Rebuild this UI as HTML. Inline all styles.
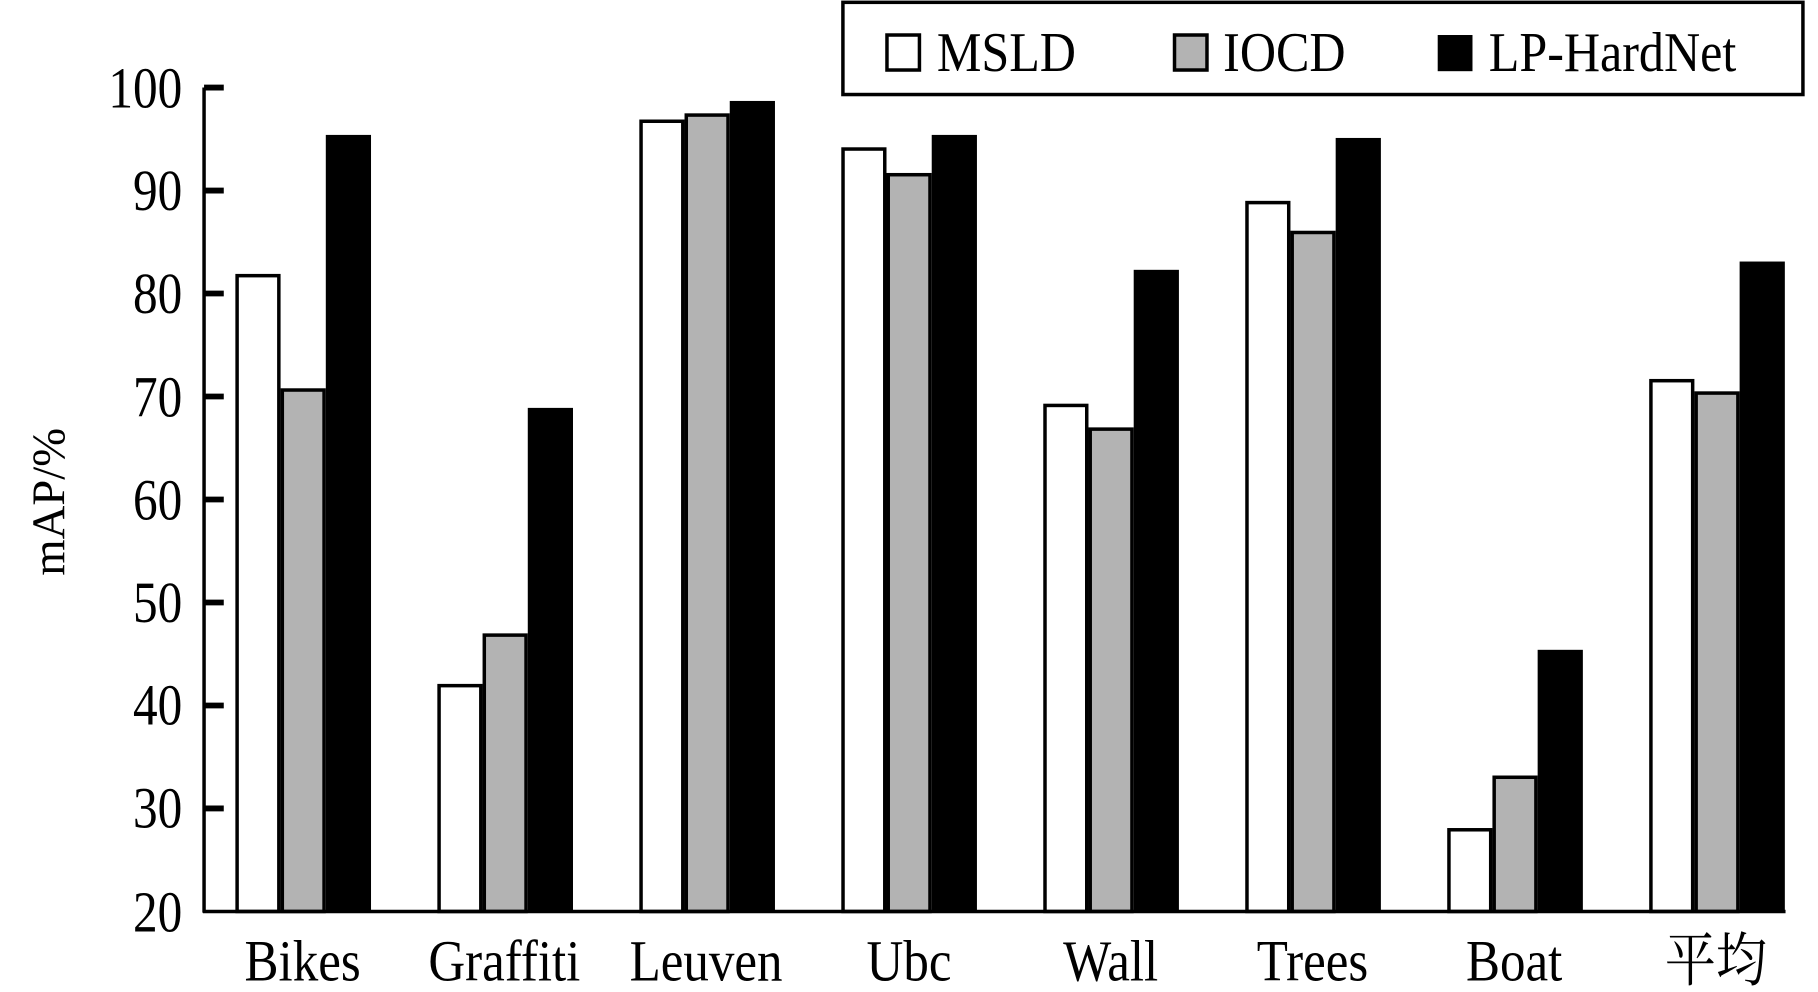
<!DOCTYPE html>
<html><head><meta charset="utf-8"><style>
html,body{margin:0;padding:0;background:#fff;width:1818px;height:992px;overflow:hidden}
svg{display:block}
text{font-family:"Liberation Serif","Noto Serif CJK SC","Noto Sans CJK SC",serif;fill:#000}
</style></head><body>
<svg width="1818" height="992" viewBox="0 0 1568 850" preserveAspectRatio="none" xmlns="http://www.w3.org/2000/svg">
<g stroke="#000" stroke-width="3">
<rect x="204.5" y="236.2" width="36" height="544.8" fill="#fff"/>
<rect x="243.5" y="334.2" width="36" height="446.8" fill="#b3b3b3"/>
<rect x="378.7" y="587.5" width="36" height="193.5" fill="#fff"/>
<rect x="417.7" y="544.2" width="36" height="236.8" fill="#b3b3b3"/>
<rect x="552.9" y="103.9" width="36" height="677.1" fill="#fff"/>
<rect x="591.9" y="98.6" width="36" height="682.4" fill="#b3b3b3"/>
<rect x="727.1" y="127.7" width="36" height="653.3" fill="#fff"/>
<rect x="766.1" y="149.7" width="36" height="631.3" fill="#b3b3b3"/>
<rect x="901.3" y="347.4" width="36" height="433.6" fill="#fff"/>
<rect x="940.3" y="367.7" width="36" height="413.3" fill="#b3b3b3"/>
<rect x="1075.5" y="173.6" width="36" height="607.4" fill="#fff"/>
<rect x="1114.5" y="199.2" width="36" height="581.8" fill="#b3b3b3"/>
<rect x="1249.7" y="711" width="36" height="70" fill="#fff"/>
<rect x="1288.7" y="666" width="36" height="115" fill="#b3b3b3"/>
<rect x="1423.9" y="326.2" width="36" height="454.8" fill="#fff"/>
<rect x="1462.9" y="336.8" width="36" height="444.2" fill="#b3b3b3"/>
</g>
<g fill="#000">
<rect x="281" y="115.6" width="39" height="665.4"/>
<rect x="455.2" y="349.5" width="39" height="431.5"/>
<rect x="629.4" y="86.5" width="39" height="694.5"/>
<rect x="803.6" y="115.6" width="39" height="665.4"/>
<rect x="977.8" y="231.2" width="39" height="549.8"/>
<rect x="1152" y="118.2" width="39" height="662.8"/>
<rect x="1326.2" y="556.8" width="39" height="224.2"/>
<rect x="1500.4" y="224.1" width="39" height="556.9"/>
</g>
<line x1="176" y1="75" x2="176" y2="782" stroke="#000" stroke-width="3"/>
<line x1="175" y1="781" x2="1540" y2="781" stroke="#000" stroke-width="3"/>
<g stroke="#000" stroke-width="5">
<line x1="176" y1="75" x2="193" y2="75"/><line x1="176" y1="163.25" x2="193" y2="163.25"/>
<line x1="176" y1="251.5" x2="193" y2="251.5"/><line x1="176" y1="339.75" x2="193" y2="339.75"/>
<line x1="176" y1="428" x2="193" y2="428"/><line x1="176" y1="516.25" x2="193" y2="516.25"/>
<line x1="176" y1="604.5" x2="193" y2="604.5"/><line x1="176" y1="692.75" x2="193" y2="692.75"/>
</g>
<g font-size="50" text-anchor="end" transform="scale(0.85,1)">
<text x="185" y="92">100</text><text x="185" y="180">90</text><text x="185" y="268">80</text>
<text x="185" y="357">70</text><text x="185" y="445">60</text><text x="185" y="533">50</text>
<text x="185" y="621">40</text><text x="185" y="709">30</text><text x="185" y="798">20</text>
</g>
<text transform="translate(55,430) rotate(-90)" font-size="40" text-anchor="middle">mAP/%</text>
<g font-size="50" text-anchor="middle" transform="scale(0.88,1)">
<text x="296.6" y="840">Bikes</text><text x="494.3" y="840">Graffiti</text><text x="692" y="840">Leuven</text>
<text x="890.9" y="840">Ubc</text><text x="1088.6" y="840">Wall</text><text x="1286.4" y="840">Trees</text>
<text x="1484" y="840">Boat</text><text x="1681.8" y="840">平均</text>
</g>
<rect x="727" y="2" width="828" height="79" fill="#fff" stroke="#000" stroke-width="3"/>
<rect x="765" y="30" width="28" height="30" fill="#fff" stroke="#000" stroke-width="3"/>
<rect x="1013" y="30" width="28" height="30" fill="#b3b3b3" stroke="#000" stroke-width="3"/>
<rect x="1240" y="30" width="30" height="31" fill="#000"/>
<g font-size="48" transform="scale(0.9,1)">
<text x="897.8" y="61">MSLD</text>
<text x="1172.2" y="61">IOCD</text>
<text x="1426.7" y="61">LP-HardNet</text>
</g>
</svg>
</body></html>
